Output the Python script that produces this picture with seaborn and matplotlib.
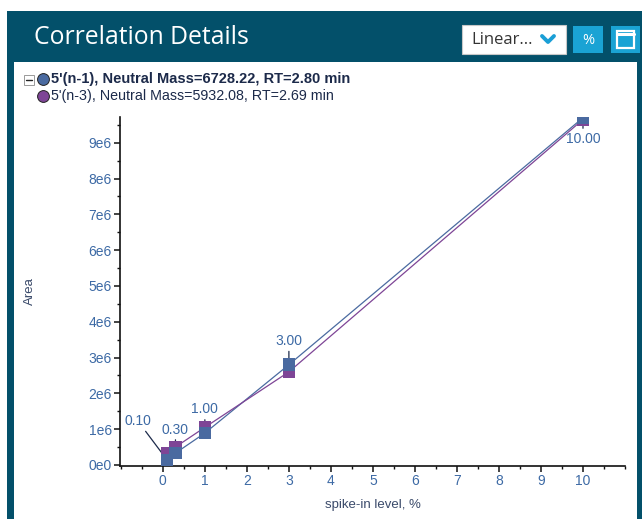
import matplotlib
matplotlib.use("Agg")
import matplotlib.pyplot as plt
import seaborn as sns
import numpy as np
import pandas as pd
from matplotlib.patches import Rectangle
from matplotlib.lines import Line2D
from matplotlib.ticker import FixedLocator, FixedFormatter, MultipleLocator

# ---- data ----
levels = [0.1, 0.3, 1.0, 3.0, 10.0]
point_labels = ["0.10", "0.30", "1.00", "3.00", "10.00"]
area_n1 = [0.14e6, 0.33e6, 0.89e6, 2.80e6, 9.70e6]
area_n3 = [0.33e6, 0.50e6, 1.05e6, 2.60e6, 9.65e6]
series_names = ["5'(n-1), Neutral Mass=6728.22, RT=2.80 min",
                "5'(n-3), Neutral Mass=5932.08, RT=2.69 min"]
y_ticks = [0, 1e6, 2e6, 3e6, 4e6, 5e6, 6e6, 7e6, 8e6, 9e6]
y_tick_labels = ["0e0", "1e6", "2e6", "3e6", "4e6", "5e6", "6e6", "7e6", "8e6", "9e6"]
x_ticks = [0, 1, 2, 3, 4, 5, 6, 7, 8, 9, 10]

df = pd.DataFrame({
    "level": levels * 2,
    "area": area_n1 + area_n3,
    "series": [series_names[0]] * 5 + [series_names[1]] * 5,
})

sns.set_theme(style="white")
plt.rcParams['font.family'] = ['Liberation Sans', 'DejaVu Sans']

W, H = 642, 519
fig = plt.figure(figsize=(W / 100, H / 100), dpi=100)
fig.patch.set_facecolor("white")

def fx(px):
    return px / W

def fy(py):
    return 1 - py / H

# frame / header
dark = "#03506a"
fig.patches.append(Rectangle((fx(7), 0), fx(642 - 7), fy(11), transform=fig.transFigure,
                             facecolor=dark, edgecolor="none", zorder=0))
fig.patches.append(Rectangle((fx(14), 0), fx(637 - 14), fy(62), transform=fig.transFigure,
                             facecolor="white", edgecolor="none", zorder=1))
fig.text(fx(34), fy(38), "Correlation Details", color="white", fontsize=17.8,
         family=["Open Sans", "DejaVu Sans"], va="center", ha="left")
# dropdown
fig.patches.append(Rectangle((fx(462), fy(54)), fx(566 - 462), (54 - 25) / H, transform=fig.transFigure,
                             facecolor="white", edgecolor="#c8c8c8", lw=0.8, zorder=2))
fig.text(fx(471), fy(40), "Linear...", color="#333333", fontsize=12,
         family=["Open Sans", "DejaVu Sans"], va="center", ha="left", zorder=3)
fig.lines.append(Line2D([fx(542), fx(548), fx(554)], [fy(36), fy(42), fy(36)],
                        transform=fig.transFigure, color="#1a9fd6", lw=2.8, zorder=3))
# % button
fig.patches.append(Rectangle((fx(573), fy(53)), fx(603 - 573), (53 - 26) / H, transform=fig.transFigure,
                             facecolor="#1aa3d4", edgecolor="none", zorder=2))
fig.text(fx(588), fy(40), "%", color="white", fontsize=10.5, va="center", ha="center", zorder=3,
         family=["Open Sans", "DejaVu Sans"])
# window button
fig.patches.append(Rectangle((fx(611), fy(53)), fx(640 - 611), (53 - 26) / H, transform=fig.transFigure,
                             facecolor="#1aa3d4", edgecolor="none", zorder=2))
fig.patches.append(Rectangle((fx(617), fy(48)), fx(634 - 617), (48 - 31) / H, transform=fig.transFigure,
                             facecolor="none", edgecolor="white", lw=1.6, zorder=3))
fig.lines.append(Line2D([fx(617), fx(634)], [fy(34), fy(34)], transform=fig.transFigure,
                        color="white", lw=2.2, zorder=3))

# legend-like header
fig.patches.append(Rectangle((fx(24), fy(85)), fx(10), 10 / H, transform=fig.transFigure,
                             facecolor="white", edgecolor="#999999", lw=0.7, zorder=2))
fig.lines.append(Line2D([fx(26), fx(32)], [fy(80), fy(80)], transform=fig.transFigure,
                        color="#222222", lw=1.0, zorder=3))
colors = ["#4a6aa0", "#7e4596"]
for i, (name, col) in enumerate(zip(series_names, colors)):
    yy = fy(79 + i * 17)
    fig.lines.append(Line2D([fx(43)], [yy], transform=fig.transFigure, marker="o", markersize=8.5,
                            markerfacecolor=col, markeredgecolor="#222222", markeredgewidth=0.7,
                            linestyle="none", zorder=3))
    fig.text(fx(51), yy, name, fontsize=10.5 if i == 0 else 10.3, color="#1c2a4a",
             fontweight="bold" if i == 0 else "normal", va="center", ha="left", zorder=3)

# ---- chart ----
ax = fig.add_axes([fx(120), fy(466), fx(625 - 120), (466 - 117) / H])
ax.set_facecolor("none")
ax.set_zorder(5)

sns.lineplot(data=df, x="level", y="area", hue="series", palette=colors, ax=ax,
             lw=0.9, legend=False, sort=True)
# markers: purple first then blue on top
for name, col in zip(series_names[::-1], colors[::-1]):
    sub = df[df["series"] == name]
    sns.scatterplot(data=sub, x="level", y="area", ax=ax, marker="s", s=80, color=col,
                    edgecolor="none", zorder=4, legend=False)

ax.set_xlim(-1.02, 11)
ax.set_ylim(-0.03e6, 9.72e6)
for s in ["top", "right"]:
    ax.spines[s].set_visible(False)
for s in ["left", "bottom"]:
    ax.spines[s].set_color("#111111")
    ax.spines[s].set_linewidth(1.2)

ax.yaxis.set_major_locator(FixedLocator(y_ticks))
ax.yaxis.set_major_formatter(FixedFormatter(y_tick_labels))
ax.xaxis.set_major_locator(FixedLocator(x_ticks))
ax.xaxis.set_minor_locator(MultipleLocator(0.5))
ax.yaxis.set_minor_locator(MultipleLocator(0.5e6))
ax.tick_params(axis="both", which="major", direction="out", length=4, width=1.1,
               color="#111111", labelcolor="#3d6aa5", labelsize=10, pad=2,
               left=True, bottom=True)
ax.tick_params(axis="both", which="minor", direction="out", length=2, width=1.0,
               color="#111111", left=True, bottom=True)
ax.set_xlabel("spike-in level, %", color="#3a4a6a", fontsize=9.5, labelpad=8)
ax.set_ylabel("Area", color="#3a4a6a", fontsize=9.5, labelpad=38)

# point annotations (n-1 series), with short leader lines
offsets = [(-21, 28), (0, 17), (0, 17), (0, 17), (0, -15)]
shrinks = [(0, 1), (0, 3), (0, 3), (0, 3), (0, 3)]
for lv, ar, lab, (dx, dy), (sa, sb) in zip(levels, area_n1, point_labels, offsets, shrinks):
    ax.annotate(lab, xy=(lv, ar), xytext=(dx, dy), textcoords="offset points",
                ha="center", va="center", fontsize=10, color="#3d6aa5",
                arrowprops=dict(arrowstyle="-", color="#1c2a4a", lw=0.9,
                                shrinkA=sa, shrinkB=sb))

fig.savefig("out.png", dpi=100, facecolor=fig.get_facecolor())
